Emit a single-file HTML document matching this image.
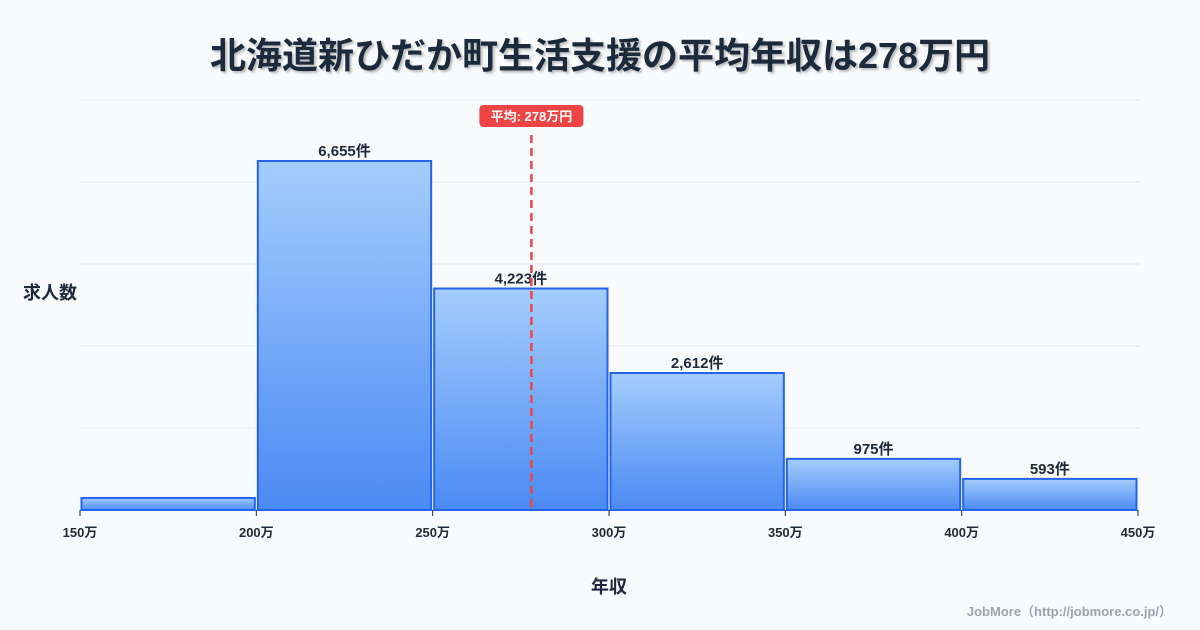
<!DOCTYPE html>
<html><head><meta charset="utf-8">
<style>
body{margin:0;background:#f8fafc;}
svg{display:block;font-family:"Liberation Sans","Noto Sans CJK JP",sans-serif;}
</style></head>
<body>
<svg id="c" width="1200" height="630" viewBox="0 0 1200 630">
<defs>
<linearGradient id="g" x1="0" y1="0" x2="0" y2="1">
<stop offset="0" stop-color="#a5cdfd"/><stop offset="1" stop-color="#4a8af4"/>
</linearGradient>
<filter id="sh"><feDropShadow dx="2" dy="2" stdDeviation="1" flood-color="#000" flood-opacity="0.25"/></filter>
</defs>
<rect width="1200" height="630" fill="#f8fafc"/>
<text x="600" y="68" text-anchor="middle" font-size="36" font-weight="bold" fill="#1e293b" filter="url(#sh)">北海道新ひだか町生活支援の平均年収は278万円</text>
<g id="grid"></g>
<g id="bars"></g>
<g id="xaxis"></g>
<text x="50" y="299" text-anchor="middle" font-size="18" font-weight="bold" fill="#1e293b">求人数</text>
<text x="609" y="593" text-anchor="middle" font-size="18" font-weight="bold" fill="#1e293b">年収</text>
<text x="1172" y="616" text-anchor="end" font-size="13" font-weight="bold" fill="#9ca3af">JobMore（http://jobmore.co.jp/）</text>
</svg>
<script>
const binStarts=[150,200,250,300,350,400];
const counts=[230,6655,4223,2612,975,593];
const labels=["","6,655件","4,223件","2,612件","975件","593件"];
const ticks=[150,200,250,300,350,400,450];
const meanValue=278;
const yMax=7818;
const NS="http://www.w3.org/2000/svg";
const X0=80,X1=1138,BASE=510,YTOP=100;
const xs=v=>X0+(v-150)/(450-150)*(X1-X0);
const ys=v=>BASE-v/yMax*(BASE-YTOP);
function mk(t,a,p){const e=document.createElementNS(NS,t);for(const k in a)e.setAttribute(k,a[k]);p.appendChild(e);return e;}
const grid=document.getElementById('grid');
for(let i=0;i<=5;i++){const y=YTOP+i*(BASE-YTOP)/5;
const l=mk('line',{x1:X0,x2:1140,y1:y,y2:y,stroke:'#e5e7eb','stroke-width':1},grid);

}
const bars=document.getElementById('bars');
binStarts.forEach((s,i)=>{
const xa=xs(s)+1.5,xb=xs(s+50)-1.5,y=ys(counts[i]);
const r=mk('rect',{x:xa,y:y,width:xb-xa,height:BASE-y,fill:'url(#g)',stroke:'#2563eb','stroke-width':2},bars);


if(labels[i]){const t=mk('text',{x:(xa+xb)/2,y:y-5,'text-anchor':'middle','font-size':15,'font-weight':'bold',fill:'#1e293b'},bars);t.textContent=labels[i];

}
});
const xg=document.getElementById('xaxis');
ticks.forEach(v=>{const x=xs(v);
const l=mk('line',{x1:x,x2:x,y1:BASE,y2:BASE+6,stroke:'#1e293b','stroke-width':1},xg);


const t=mk('text',{x:x,y:BASE+27,'text-anchor':'middle','font-size':13,'font-weight':'bold',fill:'#1e293b'},xg);t.textContent=v+'万';

});
const mx=xs(meanValue);
const ml=mk('line',{x1:mx,x2:mx,y1:135,y2:BASE,stroke:'#ef4444','stroke-width':2.5,'stroke-dasharray':'8,5'},xg);


const mb=mk('rect',{x:mx-52,y:105,width:104,height:22,rx:4,fill:'#ef4444'},xg);


const mt=mk('text',{x:mx,y:121,'text-anchor':'middle','font-size':13,'font-weight':'bold',fill:'#fff'},xg);mt.textContent='平均: '+meanValue+'万円';


</script>
</body></html>
